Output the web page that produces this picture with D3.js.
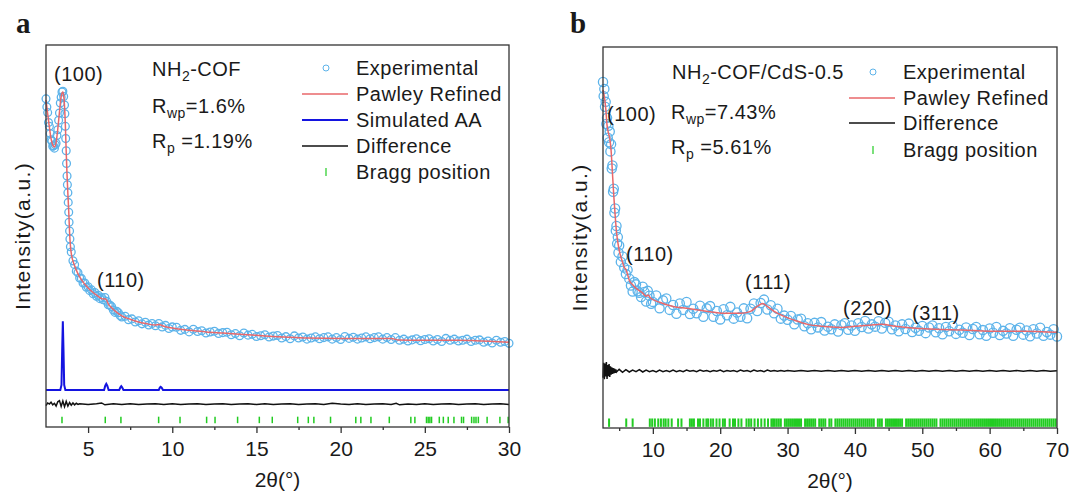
<!DOCTYPE html>
<html>
<head>
<meta charset="utf-8">
<script src="https://cdn.jsdelivr.net/npm/d3@7/dist/d3.min.js"></script>
<style>
  body { margin: 0; background: #fff; }
  svg text { font-family: "Liberation Sans", Arial, sans-serif; fill: #1a1a1a; }
</style>
</head>
<body>
<svg id="chart" width="1087" height="501"></svg>
<script>
// ---- panel a : NH2-COF ----
var expA = [[2.5,85.9],[2.55,83.8],[2.6,82.3],[2.65,79.7],[2.7,78.7],[2.75,76.8],[2.8,75.2],[2.85,74.8],[2.9,73.5],[2.95,73.6],[3.0,73.0],[3.05,73.9],[3.1,74.3],[3.15,76.3],[3.2,77.8],[3.25,80.3],[3.3,82.2],[3.35,84.8],[3.4,86.3],[3.45,87.7],[3.5,87.9],[3.55,86.5],[3.6,84.3],[3.62,82.0],[3.65,78.7],[3.67,75.5],[3.7,72.3],[3.72,69.0],[3.75,65.7],[3.77,63.4],[3.8,61.3],[3.82,58.8],[3.85,56.2],[3.87,53.6],[3.9,51.3],[3.92,49.2],[3.95,47.2],[4.0,45.8],
  [4.1,43.5],[4.2,42.5],[4.3,40.8],[4.4,40.4],[4.5,39.0],[4.6,38.9],[4.7,37.7],[4.8,37.7],[4.9,36.6],[5.0,36.7],[5.1,35.7],[5.2,35.9],[5.3,34.9],[5.4,35.2],[5.5,34.2],[5.6,34.5],[5.7,33.6],[5.8,33.9],[5.9,33.3],[6.0,33.9],
  [6.1,32.9],[6.2,32.0],[6.3,31.9],[6.4,31.5],[6.5,30.6],[6.6,30.0],[6.7,30.3],[6.8,29.9],[6.9,29.2],[7.0,28.8],[7.2,29.0],[7.4,28.1],[7.6,28.3],[7.8,27.5],[8.0,27.8],[8.2,27.0],[8.4,27.4],[8.6,26.7],[8.8,27.1],[9.0,26.5],[9.2,27.1],[9.4,26.2],[9.6,26.6],[9.8,25.8],[10.0,26.2],
  [10.25,26.1],[10.5,25.3],[10.75,25.55],[11,24.9],[11.25,25.6],[11.5,25.0],[11.75,25.2],[12,24.6],[12.25,24.85],[12.5,25.05],[12.75,24.5],[13,24.7],
  [13.25,24.8],[13.5,24.15],[13.75,24.45],[14,23.9],[14.25,24.6],[14.5,24.05],[14.75,24.25],[15,23.7],[15.25,23.9],[15.5,24.15],[15.75,23.55],[16,23.8],
  [16.25,23.95],[16.5,23.3],[16.75,23.65],[17,23.1],[17.25,23.85],[17.5,23.3],[17.75,23.55],[18,23.0],[18.25,23.3],[18.5,23.6],[18.75,23.1],[19,23.4],
  [19.25,23.6],[19.5,23.0],[19.75,23.4],[20,22.9],[20.25,23.7],[20.5,23.2],[20.75,23.5],[21,23.0],[21.25,23.3],[21.5,23.6],[21.75,23.1],[22,23.4],
  [22.25,23.6],[22.5,23.0],[22.75,23.4],[23,22.9],[23.25,23.4],[23.5,22.7],[23.75,23.0],[24,22.5],[24.25,22.8],[24.5,23.1],[24.75,22.6],[25,22.9],
  [25.25,23.1],[25.5,22.5],[25.75,22.9],[26,22.4],[26.25,23.2],[26.5,22.7],[26.75,23.0],[27,22.5],[27.25,22.7],[27.5,23.0],[27.75,22.4],[28,22.7],
  [28.25,22.8],[28.5,22.2],[28.75,22.5],[29,22.0],[29.25,22.7],[29.5,22.2],[29.75,22.4],[30,21.9]];

var fitA = [[2.5,85.6],[2.6,82],[2.7,78.5],[2.8,75.5],[2.9,73.8],[3.0,73.3],[3.1,74.5],[3.2,78],[3.3,82.5],[3.4,86.5],[3.5,87.7],[3.55,86.8],[3.6,84],[3.65,79],[3.7,72],[3.75,66],[3.8,61],[3.85,56.5],[3.9,51],[3.95,47.5],[4.0,45.5],[4.2,42.2],[4.4,40.1],[4.6,38.6],[4.8,37.4],[5.0,36.4],[5.3,35.2],[5.6,34.2],[5.8,33.6],[5.9,33.5],[6.0,33.6],[6.1,33.2],[6.2,32.2],[6.4,31.2],[6.7,30.0],[7.0,29.1],[7.5,28.2],[8.0,27.5],[8.5,27.0],[9.0,26.7],[9.2,26.8],[9.5,26.4],[10,25.9],[11,25.3],[12,24.9],[13,24.6],[14,24.3],[15,24.0],[16,23.7],[17,23.5],[18,23.3],[20,23.2],[23,23.2],[23.4,22.8],[25,22.7],[27,22.7],[28,22.6],[30,22.2]];

var simA = [[2.5,9.7],[3.35,9.7],[3.42,11],[3.46,20],[3.5,27.7],[3.54,20],[3.58,11],[3.65,9.7],[5.95,9.7],[6.02,10.8],[6.08,11.3],[6.14,10.8],[6.22,9.7],[6.85,9.7],[6.92,10.4],[6.97,10.7],[7.02,10.4],[7.1,9.7],[9.2,9.7],[9.26,10.3],[9.31,10.5],[9.37,10.3],[9.45,9.7],[30,9.7]];

var diffA = [[2.5,5.6],[2.6,6.3],[2.7,6.0],[2.8,6.5],[2.9,5.8],[3.0,6.2],[3.1,5.5],[3.2,6.6],[3.3,6.9],[3.4,5.4],[3.5,6.8],[3.6,5.3],[3.7,6.7],[3.8,5.5],[3.9,6.4],[4.0,5.7],[4.1,6.3],[4.2,5.8],[4.3,6.2],[4.4,5.9],[4.5,6.1],
  [5,5.9],[5.5,6.1],[5.8,6.3],[6.0,5.8],[6.5,6.1],[7,5.9],[7.5,6.1],[8,5.9],[8.5,6.0],[9,6.1],[9.5,5.9],[10,6.1],[10.5,5.9],[11,6.0],[11.5,6.1],[12,5.9],[12.5,6.0],[13,6.1],[13.5,5.9],[14,6.0],[14.5,6.1],[15,5.9],[15.5,6.1],[16,5.9],[16.5,6.0],[17,6.1],[17.5,5.9],[18,6.0],[18.5,6.1],[19,5.9],[19.5,6.2],[20,6.0],[20.5,5.9],[21,6.1],[21.5,5.9],[22,6.0],[22.5,6.1],[23,5.9],[23.3,6.2],[23.5,5.8],[24,6.0],[24.5,5.9],[25,6.1],[25.5,5.9],[26,6.0],[26.5,6.1],[27,5.9],[27.5,6.0],[28,6.1],[28.5,5.9],[29,6.0],[29.5,6.1],[30,5.9]];

var braggA = [3.45,6.02,6.95,9.19,10.46,12.04,12.54,13.88,15.17,15.94,17.45,18.08,18.41,19.4,20.9,21.2,21.8,22.89,24.17,24.41,25.1,25.2,25.3,25.4,25.86,26.1,26.39,26.73,27.18,27.3,27.78,27.92,28.04,28.18,28.7,29.46,29.95];

var ticksA = [5, 10, 15, 20, 25, 30];
var minorA = [7.5, 12.5, 17.5, 22.5, 27.5];
var legendA = ['Experimental', 'Pawley Refined', 'Simulated AA', 'Difference', 'Bragg position'];

// ---- panel b : NH2-COF/CdS-0.5 ----
var expB = [[2.6,90.8],[2.7,87.1],[2.8,89.0],[2.9,84.3],[3.0,85.6],[3.1,79.8],[3.2,81.4],[3.3,76.2],[3.4,79.3],[3.5,75.0],[3.6,77.8],[3.7,72.6],[3.8,74.5],[3.9,68.1],[4.0,68.9],[4.1,62.0],[4.2,62.8],[4.3,56.5],[4.4,57.6],[4.5,51.8],[4.6,53.0],[4.7,48.4],[4.8,50.1],[4.9,46.0],[5.0,47.9],
  [5.25,43.6],[5.5,45.0],[5.75,42.1],[6.0,40.4],[6.25,41.5],[6.5,39.2],[6.75,37.4],[7.0,35.8],[7.25,38.3],[7.5,37.7],[7.75,35.9],[8.0,35.5],[8.25,34.4],[8.5,37.1],[8.75,35.7],[9.0,33.2],[9.25,36.0],[9.5,34.7],[9.75,32.6],[10,33.1],[10.5,34.8],[11,31.4],[11.5,33.5],[12,34.0],[12.5,31.0],[13,32.3],[13.5,30.0],[14,32.7],[14.5,31.0],[15,33.1],[15.5,29.9],[16,31.3],[16.5,30.1],[17,32.1],[17.5,29.2],[18,31.4],[18.5,32.0],[19,29.2],[19.5,30.7],[20,28.5],
  [20.5,31.2],[21,29.6],[21.5,31.8],[22,28.7],[22.5,30.3],[23,29.2],[23.5,31.4],[24,28.8],[24.5,31.3],[25,32.7],[25.5,30.7],[26,32.8],[26.5,33.7],[27,31.1],[27.5,32.2],[28,30.1],[28.5,31.3],[29,28.7],[29.5,29.5],[30,28.4],
  [30.5,29.4],[31,27.2],[31.5,28.5],[32,28.7],[32.5,26.7],[33,27.5],[33.5,25.9],[34,27.6],[34.5,26.4],[35,27.8],[35.5,25.6],[36,26.6],[36.5,25.9],[37,27.2],[37.5,25.3],[38,27.0],[38.5,27.5],[39,25.8],[39.5,26.9],[40,25.5],
  [40.5,27.5],[41,26.5],[41.5,28.1],[42,26.1],[42.5,27.2],[43,26.6],[43.5,28.0],[44,26.1],[44.5,27.6],[45,27.9],[45.5,25.9],[46,26.9],[46.5,25.4],[47,27.2],[47.5,26.0],[48,27.4],[48.5,25.2],[49,26.3],[49.5,25.5],[50,26.8],
  [50.5,24.9],[51,26.4],[51.5,26.9],[52,25.1],[52.5,26.2],[53,24.6],[53.5,26.5],[54,25.4],[54.5,26.8],[55,24.7],[55.5,25.8],[56,25.0],[56.5,26.4],[57,24.4],[57.5,26.0],[58,26.5],[58.5,24.6],[59,25.7],[59.5,24.2],[60,26.1],
  [60.5,25.0],[61,26.5],[61.5,24.4],[62,25.5],[62.5,24.8],[63,26.2],[63.5,24.2],[64,25.8],[64.5,26.3],[65,24.5],[65.5,25.6],[66,24.1],[66.5,25.9],[67,24.8],[67.5,26.3],[68,24.2],[68.5,25.2],[69,24.5],[69.5,25.9],[70,24.0]];

var fitB = [[2.6,88.7],[2.8,87],[3.0,84],[3.2,79.5],[3.4,77.5],[3.6,76],[3.8,72.9],[4.0,67],[4.2,61],[4.4,55.9],[4.6,51.5],[4.8,48.7],[5.0,46.7],[5.5,43.5],[5.8,42.0],[6.0,41.6],[6.2,40.6],[6.5,38.8],[7.0,37.6],[7.5,36.7],[8.5,35.4],[9.0,34.6],[9.3,34.9],[9.6,34.2],[11,33.0],[13,31.9],[15,31.4],[17,30.9],[19,30.4],[21,30.1],[23,30.1],[24.5,30.6],[25.5,31.9],[26.3,32.7],[27,31.9],[28,30.6],[29.5,29.3],[31,28.3],[33,27.2],[35,26.7],[38,26.4],[40,26.7],[42,27.0],[44,27.2],[46,26.7],[49,26.2],[52,25.9],[56,25.7],[60,25.4],[65,25.4],[70,25.1]];

var diffB = [[2.6,13.2],[2.7,17.1],[2.8,12.8],[2.9,16.9],[3.0,13.5],[3.1,17.3],[3.2,12.9],[3.3,16.5],[3.4,13.6],[3.5,16.8],[3.6,13.4],[3.7,16.2],[3.8,14.0],[3.9,15.9],[4.0,14.2],[4.1,15.7],[4.2,14.3],[4.3,15.6],[4.4,14.5],[4.5,15.4],[4.6,14.7],
  [5.0,15.4],[5.5,14.6],[6.0,15.3],[6.5,14.7],[7.0,15.2],[7.5,14.8],[8.0,15.3],[8.5,14.7],[9.0,15.2],[9.5,14.8],[10,15.1],[10.5,14.7],[11,15.2],[11.5,14.8],[12,15.1],[12.5,14.8],[13,15.2],[13.5,14.8],[14,15.1],[14.5,14.8],[15,15.2],[15.5,14.9],[16,15.1],[16.5,14.8],[17,15.2],[17.5,14.9],[18,15.1],[18.5,14.8],[19,15.1],[19.5,14.9],[20,15.2],[20.5,14.8],[21,15.1],[21.5,14.9],[22,15.1],[22.5,14.8],[23,15.2],[23.5,14.9],[24,15.1],[24.5,14.8],[25,15.2],[25.5,14.9],[26,15.1],[26.5,14.8],[27,15.2],[27.5,14.9],[28,15.1],[28.5,14.9],[29,15.1],[29.5,14.9],[30,15.1],
  [31,14.9],[32,15.1],[33,14.9],[34,15.1],[35,14.9],[36,15.1],[37,14.9],[38,15.1],[39,14.9],[40,15.1],[41,14.9],[42,15.1],[43,14.9],[44,15.1],[45,14.9],[46,15.1],[47,14.9],[48,15.1],[49,14.9],[50,15.1],[51,14.9],[52,15.1],[53,14.9],[54,15.1],[55,14.9],[56,15.1],[57,14.9],[58,15.1],[59,14.9],[60,15.1],[61,14.9],[62,15.1],[63,14.9],[64,15.1],[65,14.9],[66,15.1],[67,14.9],[68,15.1],[69,14.9],[70,15.0]];

var braggB = [3.5,6.05,7.0,9.55,9.9,10.3,10.8,11.2,11.6,11.9,12.3,12.8,13.75,14.25,15.5,15.8,16.1,16.7,17.0,17.5,17.95,18.2,18.6,18.95,19.45,19.9,20.4,20.7,21.4,21.9,22.2,22.7,23.15,23.9,24.25,24.6,25.1,25.6,26.1,26.6,27.1,27.6,27.85,
  28.1,28.4,28.7,29.0,29.6,29.9,30.2,30.5,30.8,31.1,31.4,31.7,32.0,32.6,32.9,33.2,33.5,33.8,34.1,34.7,35.0,35.3,35.6,36.2,36.5,37.1,37.4,37.7,38.0,38.3,38.6,38.9,39.2,39.5,39.8,
  40.1,40.4,40.7,41.0,41.3,41.6,41.9,42.2,42.5,42.8,43.4,43.7,44.0,44.6,44.9,45.2,45.5,45.8,46.1,46.4,46.7,47.0,47.6,47.9,48.2,48.5,48.8,49.1,49.4,49.7,
  50.0,50.3,50.6,50.9,51.2,51.5,51.8,52.1,52.7,53.0,53.3,53.6,53.9,54.2,54.5,54.8,55.1,55.4,55.7,56.0,56.3,56.6,56.9,57.2,57.5,57.8,58.1,58.4,58.7,59.0,59.3,59.6,59.9,
  60.2,60.5,60.8,61.1,61.4,61.7,62.0,62.3,62.6,62.9,63.2,63.5,63.8,64.1,64.4,64.7,65.0,65.3,65.6,65.9,66.2,66.5,66.8,67.1,67.4,67.7,68.0,68.3,68.6,68.9,69.2,69.5,69.8];

var ticksB = [10, 20, 30, 40, 50, 60, 70];
var minorB = [5, 15, 25, 35, 45, 55, 65];
var legendB = ['Experimental', 'Pawley Refined', 'Difference', 'Bragg position'];

var col = { exp: '#5cb3ea', fit: '#e8676a', sim: '#1414e0', diff: '#111', bragg: '#22cc22', frame: '#333' };

var svg = d3.select('#chart');

// text with optional subscripts: parts are strings or {sub: '...'}
function richText(g, x, y, parts, opts) {
    opts = opts || {};
    var t = g.append('text')
        .attr('x', x)
        .attr('y', y)
        .style('font-size', (opts.size || 20) + 'px')
        .style('letter-spacing', (opts.spacing == null ? 0.5 : opts.spacing) + 'px');
    var down = false;
    parts.forEach(function(p) {
        if (typeof p === 'string') {
            t.append('tspan').attr('dy', down ? -5 : 0).text(p);
            down = false;
        } else {
            t.append('tspan').attr('dy', 5).style('font-size', '14px').text(p.sub);
            down = true;
        }
    });
    return t;
}

function drawPanel(c) {
    var g = svg.append('g');
    var x = d3.scaleLinear().domain(c.xDomain).range([c.left, c.right]);
    var y = d3.scaleLinear().domain([0, 100]).range([c.bottom, c.top]);

    var line = d3.line()
        .x(function(d) { return x(d[0]); })
        .y(function(d) { return y(d[1]); });

    // bragg positions
    g.append('g').selectAll('line')
        .data(c.bragg)
        .enter().append('line')
        .attr('x1', function(d) { return x(d); })
        .attr('x2', function(d) { return x(d); })
        .attr('y1', y(c.braggHi))
        .attr('y2', y(c.braggLo))
        .attr('stroke', col.bragg)
        .attr('stroke-width', c.braggWidth);

    g.append('path').datum(c.diff)
        .attr('d', line)
        .attr('fill', 'none')
        .attr('stroke', col.diff)
        .attr('stroke-width', 1.5);

    if (c.sim) {
        g.append('path').datum(c.sim)
            .attr('d', line)
            .attr('fill', 'none')
            .attr('stroke', col.sim)
            .attr('stroke-width', 2);
    }

    g.append('g').selectAll('circle')
        .data(c.exp)
        .enter().append('circle')
        .attr('cx', function(d) { return x(d[0]); })
        .attr('cy', function(d) { return y(d[1]); })
        .attr('r', c.r)
        .attr('fill', 'none')
        .attr('stroke', col.exp)
        .attr('stroke-width', 1.3);

    g.append('path').datum(c.fit)
        .attr('d', line.curve(d3.curveMonotoneX))
        .attr('fill', 'none')
        .attr('stroke', col.fit)
        .attr('stroke-width', 1.5);

    // axes
    var axis = g.append('g')
        .attr('transform', 'translate(0,' + c.bottom + ')')
        .call(d3.axisBottom(x).tickValues(c.ticks).tickSize(6).tickPadding(8).tickSizeOuter(0));
    axis.select('.domain').remove();
    axis.selectAll('line').attr('stroke', col.frame).attr('stroke-width', 1.3);
    axis.selectAll('text')
        .style('font-size', '21px')
        .style('font-family', '"Liberation Sans", Arial, sans-serif')
        .attr('fill', '#1a1a1a');

    var minor = g.append('g')
        .attr('transform', 'translate(0,' + c.bottom + ')')
        .call(d3.axisBottom(x).tickValues(c.minor).tickSize(3).tickFormat(''));
    minor.select('.domain').remove();
    minor.selectAll('line').attr('stroke', col.frame).attr('stroke-width', 1.3);

    g.append('rect')
        .attr('x', c.left)
        .attr('y', c.top)
        .attr('width', c.right - c.left)
        .attr('height', c.bottom - c.top)
        .attr('fill', 'none')
        .attr('stroke', col.frame)
        .attr('stroke-width', 1.3);

    g.append('text')
        .attr('x', (c.left + c.right) / 2)
        .attr('y', c.bottom + 60)
        .attr('text-anchor', 'middle')
        .style('font-size', '21px')
        .text('2θ(°)');

    g.append('text')
        .attr('transform', 'translate(' + c.yTitleX + ',' + ((c.top + c.bottom) / 2) + ') rotate(-90)')
        .attr('text-anchor', 'middle')
        .style('font-size', '21px')
        .style('letter-spacing', '1.4px')
        .text('Intensity(a.u.)');

    g.append('text')
        .attr('x', c.tagX)
        .attr('y', 33)
        .style('font-family', '"Liberation Serif", "Times New Roman", serif')
        .style('font-weight', 'bold')
        .style('font-size', '29px')
        .text(c.tag);

    // legend
    var lg = g.append('g');
    c.legend.forEach(function(name, i) {
        var by = c.legendY[i];
        var kind = c.legendKinds[i];
        var cy = by - 7;
        if (kind === 'circle') {
            lg.append('circle').attr('cx', c.legendSym).attr('cy', cy).attr('r', 3)
                .attr('fill', 'none').attr('stroke', col.exp).attr('stroke-width', 1);
        } else if (kind === 'tick') {
            lg.append('line').attr('x1', c.legendSym).attr('x2', c.legendSym)
                .attr('y1', cy - 4).attr('y2', cy + 4)
                .attr('stroke', col.bragg).attr('stroke-width', 1.2);
        } else {
            lg.append('line').attr('x1', c.legendSym - 24).attr('x2', c.legendSym + 22)
                .attr('y1', cy).attr('y2', cy)
                .attr('stroke', col[kind]).attr('stroke-width', kind === 'sim' ? 2 : 1.5);
        }
        richText(lg, c.legendText, by, [name]);
    });

    c.notes.forEach(function(n) { richText(g, n.x, n.y, n.parts); });
}

drawPanel({
    tag: 'a', tagX: 16,
    left: 46, right: 509, top: 45, bottom: 427,
    xDomain: [2.5, 30], ticks: ticksA, minor: minorA,
    exp: expA, fit: fitA, sim: simA, diff: diffA, bragg: braggA,
    braggLo: 1.0, braggHi: 2.7, braggWidth: 1.5, r: 3.9,
    yTitleX: 30,
    legend: legendA, legendKinds: ['circle', 'fit', 'sim', 'diff', 'tick'],
    legendY: [75, 101, 127, 153, 179], legendSym: 326, legendText: 356,
    notes: [
        { x: 152, y: 76, parts: ['NH', { sub: '2' }, '-COF'] },
        { x: 152, y: 113, parts: ['R', { sub: 'wp' }, '=1.6%'] },
        { x: 152, y: 148, parts: ['R', { sub: 'p' }, ' =1.19%'] },
        { x: 54, y: 81, parts: ['(100)'] },
        { x: 97, y: 287, parts: ['(110)'] }
    ]
});

drawPanel({
    tag: 'b', tagX: 570,
    left: 603, right: 1057, top: 47, bottom: 428,
    xDomain: [2.6, 70], ticks: ticksB, minor: minorB,
    exp: expB, fit: fitB, sim: null, diff: diffB, bragg: braggB,
    braggLo: 0.3, braggHi: 2.5, braggWidth: 2, r: 4.6,
    yTitleX: 587,
    legend: legendB, legendKinds: ['circle', 'fit', 'diff', 'tick'],
    legendY: [79, 105, 130, 157], legendSym: 873, legendText: 903,
    notes: [
        { x: 672, y: 79, parts: ['NH', { sub: '2' }, '-COF/CdS-0.5'] },
        { x: 671, y: 119, parts: ['R', { sub: 'wp' }, '=7.43%'] },
        { x: 671, y: 154, parts: ['R', { sub: 'p' }, ' =5.61%'] },
        { x: 607, y: 121, parts: ['(100)'] },
        { x: 626, y: 261, parts: ['(110)'] },
        { x: 745, y: 289, parts: ['(111)'] },
        { x: 843, y: 315, parts: ['(220)'] },
        { x: 912, y: 320, parts: ['(311)'] }
    ]
});
</script>
</body>
</html>
